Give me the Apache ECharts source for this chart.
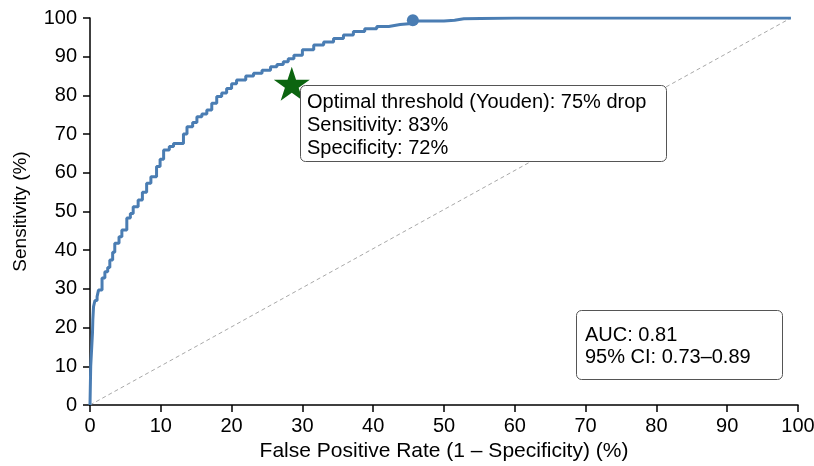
<!DOCTYPE html>
<html>
<head>
<meta charset="utf-8">
<script src="https://cdn.jsdelivr.net/npm/echarts@6/dist/echarts.min.js"></script>
<style>
  html, body { margin: 0; padding: 0; background: #fff; }
  #chart { width: 814px; height: 466px; }
</style>
</head>
<body>
<div id="chart"></div>
<script>
// ROC curve (FPR %, sensitivity %)
const fpr = [0, 0.1, 0.35, 0.4, 0.5, 0.7, 1.0, 1.2, 1.7, 2.1, 2.5, 2.8, 3.2, 3.5, 4.1, 4.5, 5.2, 5.7, 6.1, 6.8, 7.4, 8.0, 8.6, 9.4, 9.9, 10.4, 11.2, 11.8, 12.7, 13.2, 13.7, 14.5, 15.1, 15.8, 16.5, 17.2, 17.9, 18.6, 19.3, 20.0, 20.7, 22.0, 23.1, 24.3, 25.5, 26.4, 27.3, 28.0, 28.8, 30.0, 31.6, 33.0, 34.4, 35.8, 37.2, 38.8, 40.5, 42.2, 43.8, 45.5, 48.0, 50.0, 51.5, 52.8, 60, 70, 80, 90, 99];
const tpr = [0, 10, 18.6, 22, 25.4, 27, 28, 29.7, 32.8, 34.4, 35.5, 37.5, 39.5, 41.8, 43.5, 45.2, 48.3, 49.5, 51.2, 53, 55, 57.3, 59, 61.6, 63.5, 65.9, 66.8, 67.6, 67.6, 70, 71.9, 73, 74.5, 75.2, 76.2, 78, 79.7, 80.6, 81.8, 83, 84, 85, 85.7, 86.5, 87.4, 88.0, 88.7, 89.5, 90.4, 91.8, 93.0, 93.8, 94.7, 95.6, 96.5, 97.2, 97.8, 98.3, 98.6, 99.2, 99.2, 99.4, 99.8, 100, 100, 100, 100, 100, 100];
const chanceLine = [[0, 0], [99, 100]];
const youdenPoint = [28.5, 83];
const endPoint = [45.6, 99.4];
const xTicks = [0, 10, 20, 30, 40, 50, 60, 70, 80, 90, 100];
const yTicks = [0, 10, 20, 30, 40, 50, 60, 70, 80, 90, 100];
const youdenText = ['Optimal threshold (Youden): 75% drop', 'Sensitivity: 83%', 'Specificity: 72%'];
const aucText = ['AUC: 0.81', '95% CI: 0.73–0.89'];

const FONT = '"Liberation Sans", Arial, Helvetica, sans-serif';
const starPath = 'path://M50,0 L61.8,36.2 L100,36.2 L69.1,58.6 L80.9,95.1 L50,72.7 L19.1,95.1 L30.9,58.6 L0,36.2 L38.2,36.2 Z';

const chart = echarts.init(document.getElementById('chart'));

const axisCommon = {
  type: 'value',
  min: 0,
  max: 100,
  interval: 10,
  splitLine: { show: false },
  axisLine: { show: true, lineStyle: { color: '#000', width: 1.5 } },
  axisTick: { show: true, length: 7, lineStyle: { color: '#000', width: 1.5 } },
  axisLabel: { color: '#000', fontSize: 20, fontFamily: FONT, margin: 13 },
  nameLocation: 'middle'
};

chart.setOption({
  animation: false,
  grid: { left: 90, right: 16, top: 18, bottom: 61, containLabel: false, outerBoundsMode: 'none' },
  xAxis: Object.assign({}, axisCommon, {
    name: 'False Positive Rate (1 – Specificity) (%)',
    nameGap: 27,
    nameTextStyle: { color: '#000', fontSize: 21, fontFamily: FONT },
    axisLabel: Object.assign({}, axisCommon.axisLabel, {
      margin: 11,
      formatter: v => xTicks.includes(v) ? String(v) : ''
    })
  }),
  yAxis: Object.assign({}, axisCommon, {
    name: 'Sensitivity (%)',
    nameGap: 60,
    nameTextStyle: { color: '#000', fontSize: 19, fontFamily: FONT },
    axisLabel: Object.assign({}, axisCommon.axisLabel, {
      formatter: v => yTicks.includes(v) ? String(v) : ''
    })
  }),
  series: [
    {
      type: 'line',
      data: chanceLine,
      symbol: 'none',
      lineStyle: { color: '#a8a8a8', width: 1, type: [4, 3] },
      z: 1
    },
    {
      type: 'line',
      data: fpr.map((x, i) => [x, tpr[i]]),
      symbol: 'none',
      step: 'end',
      lineStyle: { color: '#4a7db3', width: 3 },
      z: 2
    },
    {
      type: 'scatter',
      data: [endPoint],
      symbol: 'circle',
      symbolSize: 12,
      itemStyle: { color: '#4a7db3', opacity: 1 },
      z: 3
    },
    {
      type: 'scatter',
      data: [youdenPoint],
      symbol: starPath,
      symbolSize: [36, 34],
      itemStyle: { color: '#0c6510', opacity: 1 },
      z: 4
    }
  ],
  graphic: [
    {
      type: 'rect',
      shape: { x: 300.5, y: 85.5, width: 366, height: 76, r: 5 },
      style: { fill: '#fff', stroke: '#555', lineWidth: 1 },
      z: 10
    },
    {
      type: 'text',
      x: 307,
      y: 91,
      style: { text: youdenText.join('\n'), font: '20px ' + FONT, fill: '#000', lineHeight: 23 },
      z: 11
    },
    {
      type: 'rect',
      shape: { x: 576.5, y: 310.5, width: 206, height: 69, r: 5 },
      style: { fill: '#fff', stroke: '#555', lineWidth: 1 },
      z: 10
    },
    {
      type: 'text',
      x: 585,
      y: 324,
      style: { text: aucText.join('\n'), font: '20px ' + FONT, fill: '#000', lineHeight: 22 },
      z: 11
    }
  ]
});
</script>
</body>
</html>
